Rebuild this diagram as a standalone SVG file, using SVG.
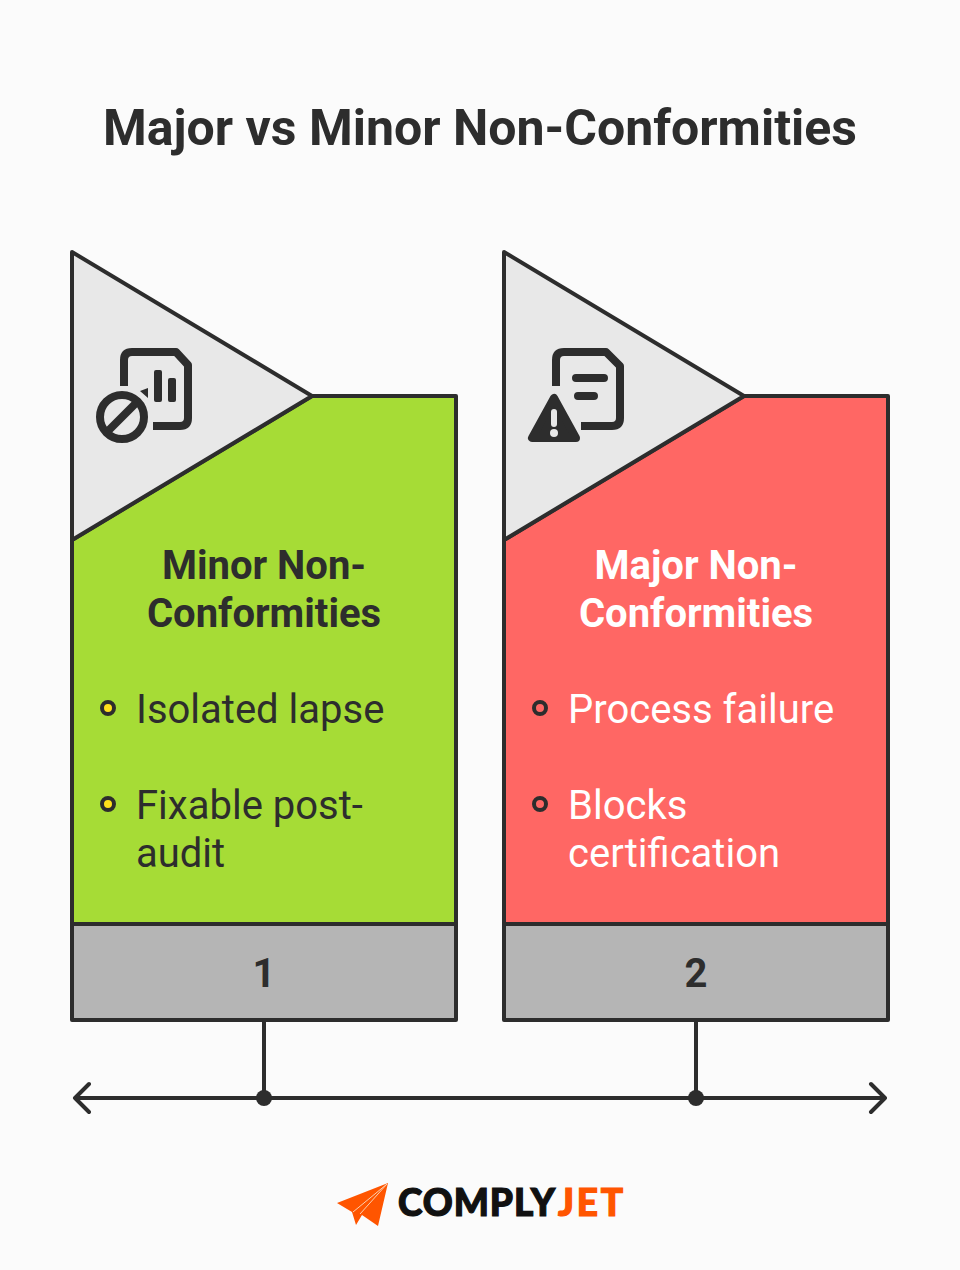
<svg xmlns="http://www.w3.org/2000/svg" width="960" height="1270" viewBox="0 0 960 1270">
<style>
text{font-family:Roboto,"Liberation Sans",sans-serif;fill:#2d2d2d}
.title{font-size:50px;font-weight:700;text-anchor:middle}
.head{font-size:40px;font-weight:700;text-anchor:middle}
.item{font-size:40px}
.num{font-size:40px;font-weight:700;text-anchor:middle}
.w{fill:#fff}
.s{stroke:#2d2d2d;stroke-width:4;stroke-linejoin:round;stroke-linecap:round}
.ic{fill:none;stroke:#2d2d2d;stroke-width:8;stroke-linejoin:round}
.icf{fill:#2d2d2d}
.tri{fill:#e8e8e8}
.foot{fill:#b5b5b5}
.dot{stroke:#2d2d2d;stroke-width:4}
.logo{font-family:Lato,Roboto,sans-serif;font-size:37px;font-weight:900;stroke-width:1.2}
</style>
<rect width="960" height="1270" fill="#fbfbfb"/>
<text class="title" x="480" y="144.5">Major vs Minor Non-Conformities</text>
<g id="connectors">
<path class="s" fill="none" d="M264 1020V1098M696 1020V1098M75 1098H885M89 1084L75 1098L89 1112M871 1084L885 1098L871 1112"/>
<circle cx="264" cy="1098" r="8" fill="#2d2d2d"/>
<circle cx="696" cy="1098" r="8" fill="#2d2d2d"/>
</g>
<g id="node-minor">
<path class="s" fill="#a6dc36" d="M72 540L312 396H456V924H72Z"/>
<path class="s tri" d="M72 252L312 396L72 540Z"/>
<rect class="s foot" x="72" y="924" width="384" height="96"/>
<path class="ic" d="M124 386V360Q124 352 132 352H176L188 365V418Q188 426 180 426H153"/>
<path class="icf" d="M140 391L148 388V398ZM156 370H160Q162 370 162 372V400Q162 402 160 402H156Q154 402 154 400V372Q154 370 156 370ZM170 378H174Q176 378 176 380V400Q176 402 174 402H170Q168 402 168 400V380Q168 378 170 378Z"/>
<circle cx="122" cy="417" r="22" fill="none" stroke="#2d2d2d" stroke-width="8"/>
<path d="M107 432L137 402" stroke="#2d2d2d" stroke-width="8" fill="none"/>
<text class="head" x="264" y="578.5">Minor Non-</text>
<text class="head" x="264" y="626.5">Conformities</text>
<circle class="dot" cx="108" cy="708" r="6" fill="#ffe01a"/>
<text class="item" x="136" y="722.5">Isolated lapse</text>
<circle class="dot" cx="108" cy="804" r="6" fill="#ffe01a"/>
<text class="item" x="136" y="818.5">Fixable post-</text>
<text class="item" x="136" y="866.5">audit</text>
<text class="num" x="264" y="986.5">1</text>
</g>
<g id="node-major">
<path class="s" fill="#ff6764" d="M504 540L744 396H888V924H504Z"/>
<path class="s tri" d="M504 252L744 396L504 540Z"/>
<rect class="s foot" x="504" y="924" width="384" height="96"/>
<path class="ic" d="M556 386V360Q556 352 564 352H606L620 366V418Q620 426 612 426H581"/>
<path d="M576 378H604M578 396H594" stroke="#2d2d2d" stroke-width="8" stroke-linecap="round" fill="none"/>
<path class="icf" stroke="#2d2d2d" stroke-width="8" stroke-linejoin="round" d="M554 398L532 438H576Z"/>
<rect x="551" y="409" width="6" height="18" rx="3" fill="#e8e8e8"/>
<circle cx="554" cy="433" r="4" fill="#e8e8e8"/>
<text class="head w" x="696" y="578.5">Major Non-</text>
<text class="head w" x="696" y="626.5">Conformities</text>
<circle class="dot" cx="540" cy="708" r="6" fill="#ff6764"/>
<text class="item w" x="568" y="722.5">Process failure</text>
<circle class="dot" cx="540" cy="804" r="6" fill="#ff6764"/>
<text class="item w" x="568" y="818.5">Blocks</text>
<text class="item w" x="568" y="866.5">certification</text>
<text class="num" x="696" y="986.5">2</text>
</g>
<g id="logo">
<path fill="#ff5500" d="M337 1203L388 1183L378 1226L362 1215L356 1225L352 1212Z"/>
<path fill="none" stroke="#fbd0b0" stroke-width="1" d="M353 1212L387 1184L360 1214"/>
<text class="logo" x="398" y="1215.5" stroke="#111" style="fill:#111" textLength="157" lengthAdjust="spacing">COMPLY</text>
<text class="logo" x="558" y="1215.5" stroke="#ff5500" style="fill:#ff5500" textLength="65" lengthAdjust="spacing">JET</text>
</g>
</svg>
